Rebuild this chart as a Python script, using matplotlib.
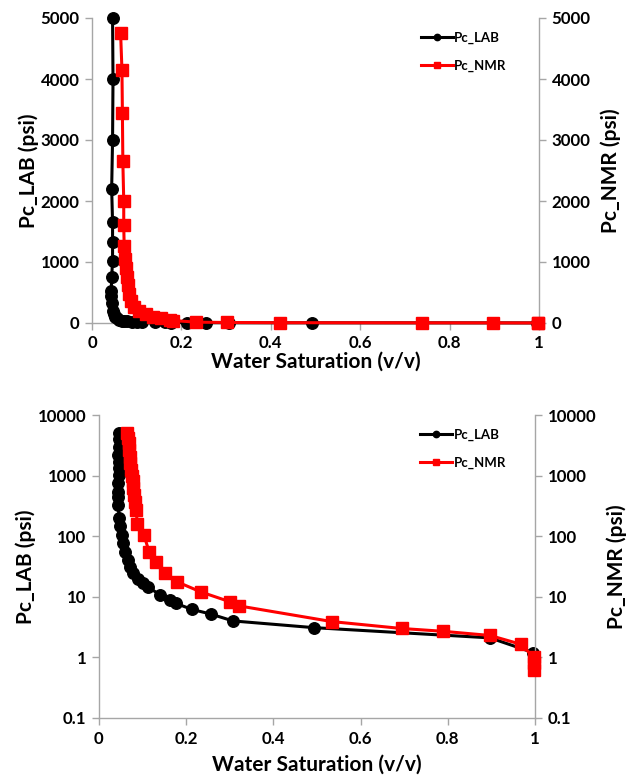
import matplotlib
matplotlib.use("Agg")
import matplotlib.pyplot as plt
from matplotlib.ticker import FixedLocator, FixedFormatter

# Pc_LAB: water saturation (v/v) and capillary pressure (psi)
sw_lab = [0.046, 0.047, 0.046, 0.044, 0.046, 0.046, 0.046, 0.044, 0.043, 0.043,
          0.044, 0.046, 0.049, 0.052, 0.056, 0.060, 0.066, 0.072, 0.079, 0.090,
          0.100, 0.112, 0.140, 0.163, 0.176, 0.213, 0.256, 0.307, 0.492, 0.897, 0.996]
pc_lab = [5000, 4000, 3000, 2200, 1650, 1320, 1020, 750, 530, 440,
          330, 200, 145, 105, 76, 55, 40, 31, 25, 20,
          17, 14.7, 10.7, 8.8, 7.8, 6.2, 5.2, 4.0, 3.1, 2.1, 1.2]

# Pc_NMR as shown in the linear (top) panel
sw_nmr_top = [0.064, 0.067, 0.068, 0.069, 0.071, 0.071, 0.072, 0.074, 0.076, 0.078,
              0.080, 0.083, 0.088, 0.095, 0.105, 0.120, 0.137, 0.155, 0.174, 0.182,
              0.233, 0.301, 0.421, 0.738, 0.898, 0.998, 0.998]
pc_nmr_top = [4750, 4150, 3450, 2650, 2000, 1600, 1260, 1050, 900, 760,
              620, 480, 360, 260, 190, 140, 100, 75, 55, 40,
              14, 8.5, 5, 3, 2.3, 1.0, 0.62]

# Pc_NMR as shown in the log (bottom) panel
sw_nmr = [0.064, 0.066, 0.068, 0.069, 0.071, 0.072, 0.074, 0.075, 0.077, 0.079,
          0.081, 0.083, 0.085, 0.088, 0.103, 0.115, 0.131, 0.151, 0.178, 0.234,
          0.300, 0.320, 0.534, 0.694, 0.788, 0.897, 0.967, 0.998, 0.998, 0.998]
pc_nmr = [5000, 4150, 3450, 2650, 2000, 1600, 1260, 1000, 800, 620,
          480, 360, 270, 160, 105, 55, 38, 24.5, 17.8, 12,
          8.3, 7.1, 3.9, 3.0, 2.7, 2.3, 1.65, 1.0, 0.8, 0.62]

lin_ticks = [0, 1000, 2000, 3000, 4000, 5000]
log_ticks = [0.1, 1, 10, 100, 1000, 10000]
log_labels = ["0.1", "1", "10", "100", "1000", "10000"]
x_ticks = [0, 0.2, 0.4, 0.6, 0.8, 1]
x_labels = ["0", "0.2", "0.4", "0.6", "0.8", "1"]

plt.rcParams["font.family"] = ["Lato", "DejaVu Sans"]
plt.rcParams["font.weight"] = "bold"

GRAY = "#a6a6a6"


def style_axes(ax, twin, xpad):
    for a in (ax, twin):
        a.spines["top"].set_visible(False)
        for s in ("left", "right", "bottom"):
            a.spines[s].set_color(GRAY)
            a.spines[s].set_linewidth(1.0)
        a.tick_params(colors=GRAY, labelcolor="black", length=5, width=1.0,
                      labelsize=12.2, pad=4)
        a.minorticks_off()
    ax.spines["right"].set_visible(False)
    twin.spines["left"].set_visible(False)
    twin.spines["bottom"].set_visible(False)
    ax.set_xlim(0, 1)
    ax.xaxis.set_major_locator(FixedLocator(x_ticks))
    ax.xaxis.set_major_formatter(FixedFormatter(x_labels))
    ax.set_xlabel("Water Saturation (v/v)", fontsize=15, fontweight="bold", labelpad=xpad)
    ax.set_ylabel("Pc_LAB (psi)", fontsize=15, fontweight="bold", labelpad=1)
    twin.set_ylabel("Pc_NMR (psi)", fontsize=15, fontweight="bold", labelpad=7)


def draw(ax, twin, sw_n, pc_n):
    l1, = ax.plot(sw_lab, pc_lab, color="black", lw=2.2, marker="o",
                  markersize=8.3, clip_on=False, label="Pc_LAB", zorder=3)
    l2, = twin.plot(sw_n, pc_n, color="#ff0000", lw=2.2, marker="s",
                    markersize=8.3, clip_on=False, label="Pc_NMR", zorder=3)
    twin.legend(handles=[l1, l2], loc="upper left", bbox_to_anchor=(0.71, 0.995),
                frameon=False, fontsize=9.5, handlelength=2.4, labelspacing=1.2,
                handletextpad=0.1, markerscale=0.55)


fig = plt.figure(figsize=(6.27, 7.79), dpi=100)

# top panel: linear pressure scale
ax1 = fig.add_axes([92 / 627, 1 - 323 / 779, 447 / 627, 305 / 779])
tw1 = ax1.twinx()
draw(ax1, tw1, sw_nmr_top, pc_nmr_top)
for a in (ax1, tw1):
    a.set_ylim(0, 5000)
    a.yaxis.set_major_locator(FixedLocator(lin_ticks))
style_axes(ax1, tw1, 0)

# bottom panel: log pressure scale
ax2 = fig.add_axes([99 / 627, 1 - 718 / 779, 436 / 627, 303 / 779])
tw2 = ax2.twinx()
draw(ax2, tw2, sw_nmr, pc_nmr)
for a in (ax2, tw2):
    a.set_yscale("log")
    a.set_ylim(0.1, 10000)
    a.yaxis.set_major_locator(FixedLocator(log_ticks))
    a.yaxis.set_major_formatter(FixedFormatter(log_labels))
style_axes(ax2, tw2, 6)

fig.savefig("out.png", dpi=100)
